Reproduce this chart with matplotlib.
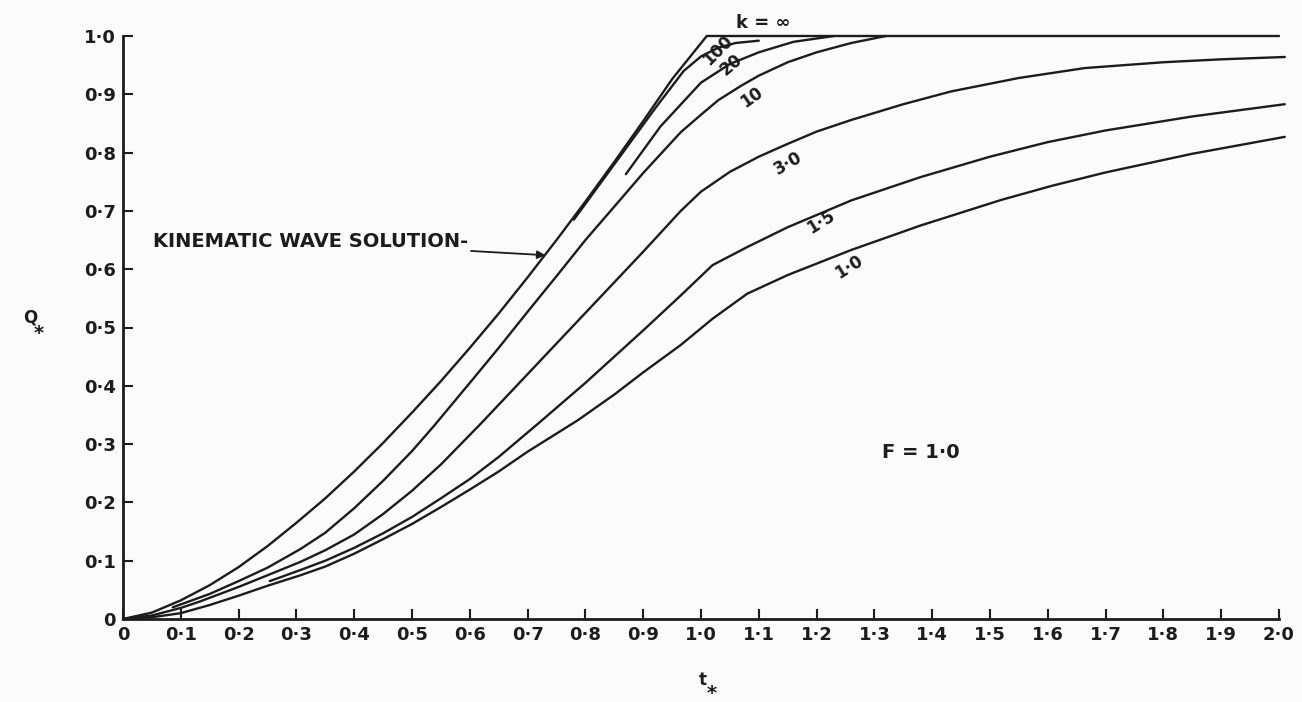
import numpy as np
import matplotlib.pyplot as plt

# rising hydrographs, F = 1.0 (t*, Q*)
t_kin = [0, 0.05, 0.1, 0.15, 0.2, 0.25, 0.3, 0.35, 0.4, 0.45, 0.5, 0.55, 0.6, 0.65,
         0.7, 0.75, 0.8, 0.85, 0.9, 0.95, 1.01, 2.0]
q_kin = [0, 0.011, 0.032, 0.058, 0.089, 0.125, 0.165, 0.207, 0.253, 0.302, 0.354, 0.408,
         0.465, 0.524, 0.586, 0.65, 0.716, 0.784, 0.854, 0.926, 1.0, 1.0]

t_k100 = [0.78, 0.85, 0.92, 0.97, 1.0, 1.03, 1.06, 1.1]
q_k100 = [0.685, 0.78, 0.875, 0.94, 0.965, 0.98, 0.988, 0.992]

t_k20 = [0.87, 0.93, 1.0, 1.05, 1.1, 1.16, 1.23]
q_k20 = [0.763, 0.845, 0.92, 0.952, 0.972, 0.99, 1.0]

t_k10 = [0.086, 0.15, 0.2, 0.25, 0.307, 0.35, 0.4, 0.45, 0.5, 0.537, 0.6, 0.65, 0.7,
         0.75, 0.8, 0.861, 0.9, 0.965, 1.0, 1.03, 1.07, 1.1, 1.15, 1.2, 1.26, 1.32]
q_k10 = [0.02, 0.043, 0.065, 0.088, 0.12, 0.148, 0.19, 0.237, 0.288, 0.33, 0.405, 0.465,
         0.527, 0.588, 0.65, 0.72, 0.765, 0.835, 0.865, 0.89, 0.915, 0.932, 0.955, 0.972,
         0.988, 1.0]

t_k3 = [0, 0.05, 0.1, 0.133, 0.2, 0.25, 0.307, 0.35, 0.4, 0.45, 0.5, 0.55, 0.619, 0.7,
        0.8, 0.9, 0.965, 1.0, 1.05, 1.1, 1.15, 1.2, 1.26, 1.35, 1.433, 1.55, 1.664, 1.8,
        1.9, 2.01]
q_k3 = [0, 0.006, 0.019, 0.03, 0.055, 0.075, 0.098, 0.118, 0.145, 0.18, 0.22, 0.265,
        0.335, 0.42, 0.525, 0.63, 0.7, 0.733, 0.767, 0.793, 0.815, 0.836, 0.856, 0.883,
        0.905, 0.928, 0.945, 0.955, 0.96, 0.964]

t_k15 = [0.254, 0.307, 0.35, 0.4, 0.45, 0.5, 0.55, 0.6, 0.65, 0.718, 0.8, 0.9, 0.965,
         1.02, 1.08, 1.15, 1.26, 1.38, 1.5, 1.6, 1.7, 1.85, 2.01]
q_k15 = [0.065, 0.084, 0.1, 0.122, 0.147, 0.175, 0.207, 0.24, 0.278, 0.335, 0.405, 0.495,
         0.555, 0.607, 0.638, 0.672, 0.718, 0.758, 0.793, 0.818, 0.838, 0.862, 0.883]

t_k1 = [0, 0.05, 0.1, 0.15, 0.2, 0.25, 0.307, 0.35, 0.4, 0.45, 0.5, 0.55, 0.6, 0.65,
        0.7, 0.787, 0.85, 0.9, 0.965, 1.02, 1.08, 1.15, 1.26, 1.38, 1.52, 1.607, 1.7,
        1.85, 2.01]
q_k1 = [0, 0.003, 0.01, 0.024, 0.04, 0.057, 0.075, 0.09, 0.112, 0.137, 0.163, 0.192,
        0.222, 0.253, 0.287, 0.341, 0.385, 0.423, 0.47, 0.515, 0.558, 0.59, 0.633, 0.675,
        0.719, 0.743, 0.766, 0.798, 0.827]

curves = [(t_kin, q_kin), (t_k100, q_k100), (t_k20, q_k20), (t_k10, q_k10),
          (t_k3, q_k3), (t_k15, q_k15), (t_k1, q_k1)]

# curve labels: text, t, Q, rotation
curve_labels = [("100", 1.03, 0.975, 45), ("20", 1.052, 0.95, 40), ("10", 1.087, 0.895, 35),
                ("3·0", 1.151, 0.782, 30), ("1·5", 1.208, 0.681, 32), ("1·0", 1.256, 0.604, 32)]

x_ticks = np.round(np.arange(0, 21) * 0.1, 1)
x_ticklabels = ["0"] + [f"{v:.1f}".replace(".", "·") for v in x_ticks[1:]]
y_ticks = np.round(np.arange(0, 11) * 0.1, 1)
y_ticklabels = ["0"] + [f"{v:.1f}".replace(".", "·") for v in y_ticks[1:]]

ink = "#1c1c1c"
W, H = 1302, 702

fig = plt.figure(figsize=(W / 100, H / 100), dpi=100)
fig.patch.set_facecolor("#fbfbfb")
ax = fig.add_axes([123 / W, 1 - 619 / H, 1156 / W, 583 / H])
ax.set_facecolor("#fbfbfb")

for t, q in curves:
    ax.plot(t, q, color=ink, lw=1.7, solid_capstyle="round", solid_joinstyle="round",
            clip_on=False)

ax.set_xlim(0, 2.0)
ax.set_ylim(0, 1.0)
for side in ["top", "right"]:
    ax.spines[side].set_visible(False)
for side in ["left", "bottom"]:
    ax.spines[side].set_linewidth(2)
    ax.spines[side].set_color(ink)

ax.set_xticks(x_ticks)
ax.set_xticklabels(x_ticklabels)
ax.set_yticks(y_ticks)
ax.set_yticklabels(y_ticklabels)
ax.tick_params(direction="in", length=7, width=1.5, color=ink, labelcolor=ink,
               labelsize=13, pad=5)
for lab in ax.get_xticklabels() + ax.get_yticklabels():
    lab.set_fontweight("bold")

for txt, t, q, rot in curve_labels:
    ax.text(t, q, txt, rotation=rot, ha="center", va="center", fontsize=12,
            fontweight="bold", color=ink)

ax.text(1.107, 1.022, "k = ∞", ha="center", va="center", fontsize=13,
        fontweight="bold", color=ink, clip_on=False)
ax.text(1.38, 0.285, "F = 1·0", ha="center", va="center", fontsize=14,
        fontweight="bold", color=ink)

ax.annotate("KINEMATIC WAVE SOLUTION-", xy=(0.731, 0.624), xytext=(0.052, 0.647),
            ha="left", va="center", fontsize=14, fontweight="bold", color=ink,
            arrowprops=dict(arrowstyle="-|>", color=ink, lw=1.3,
                            shrinkA=0, shrinkB=0, mutation_scale=12))

# axis names with starred subscripts
fig.text(30 / W, 1 - 318 / H, "Q", ha="center", va="center", fontsize=12,
         fontweight="bold", color=ink)
fig.text(39 / W, 1 - 333 / H, "*", ha="center", va="center", fontsize=14,
         fontweight="bold", color=ink)
fig.text(703 / W, 1 - 680 / H, "t", ha="center", va="center", fontsize=12,
         fontweight="bold", color=ink)
fig.text(712 / W, 1 - 694 / H, "*", ha="center", va="center", fontsize=14,
         fontweight="bold", color=ink)

fig.savefig("out.png", dpi=100, facecolor=fig.get_facecolor())
